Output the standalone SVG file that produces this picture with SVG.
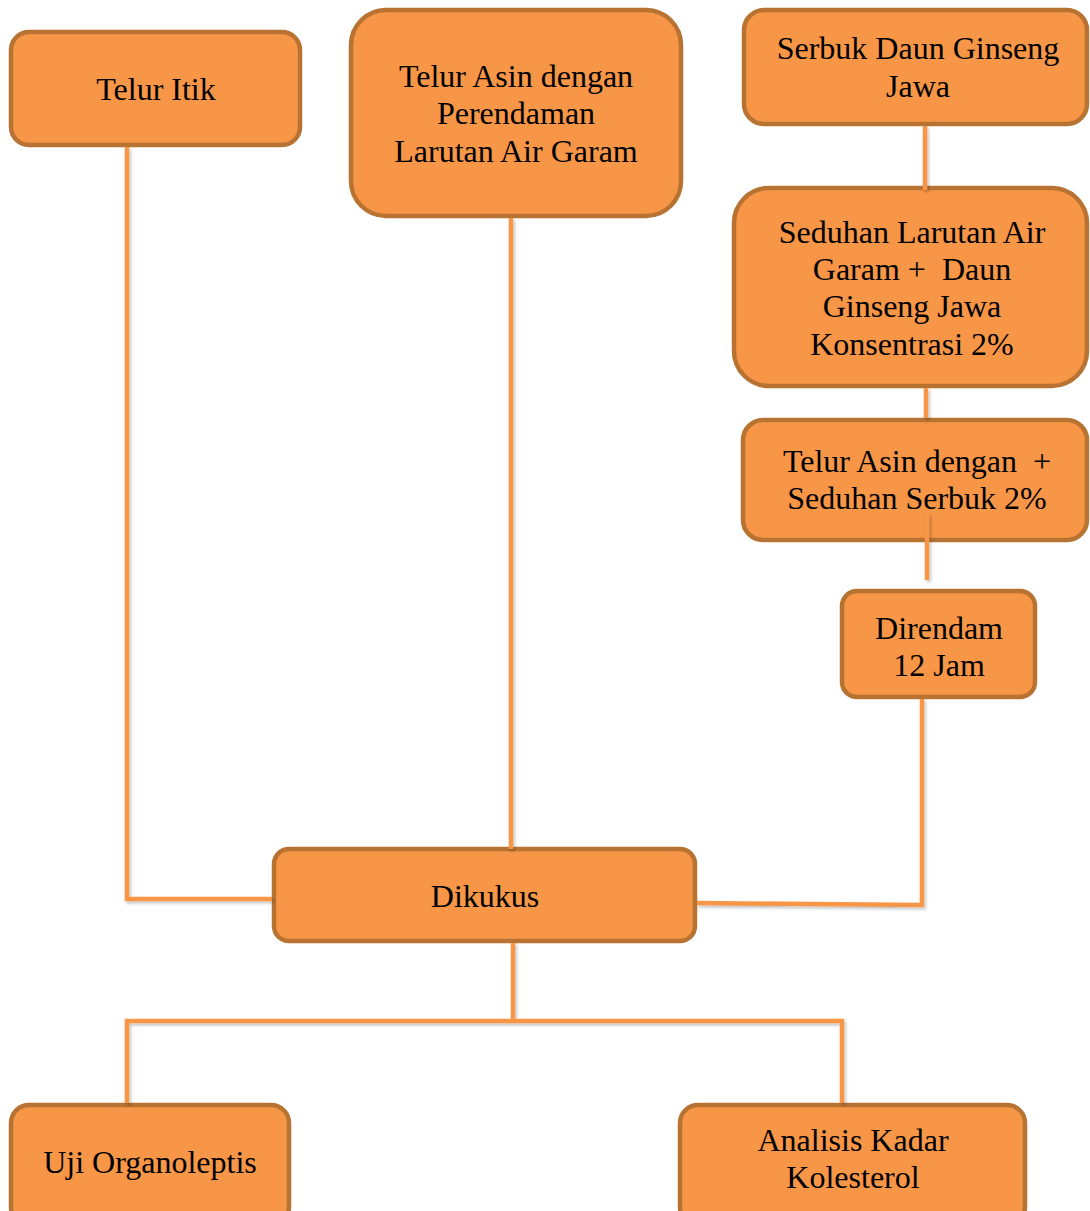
<svg xmlns="http://www.w3.org/2000/svg" width="1090" height="1211" viewBox="0 0 1090 1211">
<style>
.box{fill:#F79646;stroke:#B87333;stroke-width:4.5}
.t{font-family:"Liberation Serif","Times New Roman",serif;font-size:32px;fill:#000;text-anchor:middle;white-space:pre}
.c{fill:none;stroke:#F79646;stroke-width:4.5}
</style>
<defs>
<filter id="sh" x="-10%" y="-10%" width="120%" height="120%">
<feDropShadow dx="1.5" dy="2" stdDeviation="1.5" flood-color="#000" flood-opacity="0.25"/>
</filter>
</defs>
<rect width="1090" height="1211" fill="#fff"/>
<g id="telur-itik">
<rect class="box" x="11" y="32" width="289" height="113" rx="18"/>
<text class="t" x="156" y="100">Telur Itik</text>
</g>
<g id="telur-asin-garam">
<rect class="box" x="351" y="10" width="330" height="206" rx="35"/>
<text class="t" x="516" y="87">Telur Asin dengan</text>
<text class="t" x="516" y="124">Perendaman</text>
<text class="t" x="516" y="162">Larutan Air Garam</text>
</g>
<g id="serbuk">
<rect class="box" x="744" y="10" width="343" height="114" rx="20"/>
<text class="t" x="918" y="59">Serbuk Daun Ginseng</text>
<text class="t" x="918" y="97">Jawa</text>
</g>
<g id="seduhan">
<rect class="box" x="734" y="188" width="353" height="198" rx="35"/>
<text class="t" x="912" y="243">Seduhan Larutan Air</text>
<text class="t" x="912" y="280">Garam +  Daun</text>
<text class="t" x="912" y="317">Ginseng Jawa</text>
<text class="t" x="912" y="355">Konsentrasi 2%</text>
</g>
<g id="telur-asin-seduhan">
<rect class="box" x="743" y="420" width="344" height="120" rx="20"/>
<text class="t" x="917" y="472">Telur Asin dengan  +</text>
<text class="t" x="917" y="509">Seduhan Serbuk 2%</text>
</g>
<g id="direndam">
<rect class="box" x="842" y="591" width="193" height="106" rx="15"/>
<text class="t" x="939" y="639">Direndam</text>
<text class="t" x="939" y="676">12 Jam</text>
</g>
<g id="dikukus">
<rect class="box" x="274" y="849" width="421" height="92" rx="15"/>
<text class="t" x="485" y="907">Dikukus</text>
</g>
<g id="uji">
<rect class="box" x="11" y="1105" width="278" height="120" rx="18"/>
<text class="t" x="150" y="1173">Uji Organoleptis</text>
</g>
<g id="analisis">
<rect class="box" x="680" y="1105" width="345" height="120" rx="18"/>
<text class="t" x="853" y="1151">Analisis Kadar</text>
<text class="t" x="853" y="1188">Kolesterol</text>
</g>
<g id="connectors" filter="url(#sh)">
<polyline class="c" points="127,147 127,899 272,899"/>
<line class="c" x1="511" y1="218" x2="511" y2="849"/>
<line class="c" x1="925" y1="126" x2="925" y2="190"/>
<line class="c" x1="926" y1="388" x2="926" y2="418"/>
<line class="c" x1="927" y1="513" x2="927" y2="580"/>
<polyline class="c" points="922,699 922,905 697,903"/>
<line class="c" x1="513" y1="943" x2="513" y2="1021"/>
<polyline class="c" points="127,1103 127,1021 842,1021 842,1103"/>
</g>
</svg>
